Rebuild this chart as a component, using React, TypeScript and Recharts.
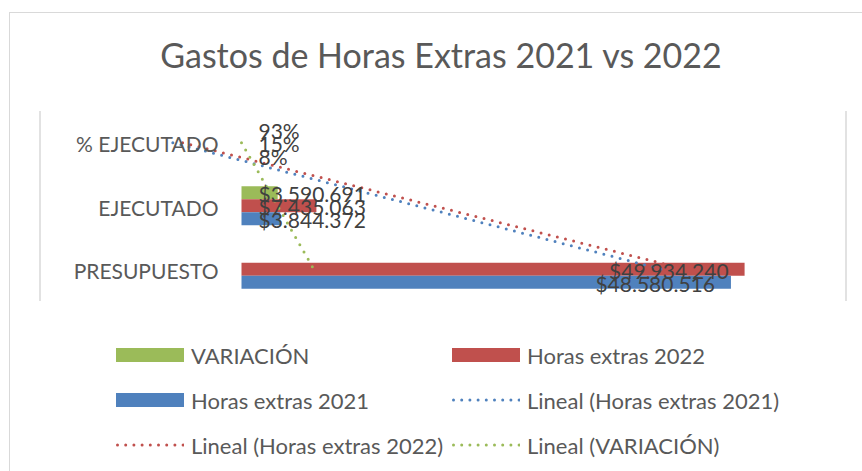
import React from 'react';
import {
  ComposedChart, Bar, Line, XAxis, YAxis, CartesianGrid, LabelList,
} from 'recharts';

const categories = ['% EJECUTADO', 'EJECUTADO', 'PRESUPUESTO'];
const variacion: (number | null)[] = [0.93, 3590691, null];
const horas2022 = [0.15, 7435063, 49934240];
const horas2021 = [0.08, 3844372, 48580516];
const valueTicks = [-20000000, 0, 20000000, 40000000, 60000000];

const GREEN = '#9BBB59';
const RED = '#C0504D';
const BLUE = '#4F81BD';
const FONT = 'Lato, "Open Sans", sans-serif';

// linear trendline like excel, blanks skipped
const linearFit = (vals: (number | null)[]) => {
  const pts = vals.map((v, i) => [i, v] as [number, number | null]).filter((p) => p[1] != null) as [number, number][];
  const n = pts.length;
  const mx = pts.reduce((s, p) => s + p[0], 0) / n;
  const my = pts.reduce((s, p) => s + p[1], 0) / n;
  const sxy = pts.reduce((s, p) => s + (p[0] - mx) * (p[1] - my), 0);
  const sxx = pts.reduce((s, p) => s + (p[0] - mx) ** 2, 0);
  const slope = sxx ? sxy / sxx : 0;
  return vals.map((_, i) => my + slope * (i - mx));
};

const trend2021 = linearFit(horas2021);
const trend2022 = linearFit(horas2022);
const trendVar = linearFit(variacion);

const data = categories.map((name, i) => ({
  name,
  variacion: variacion[i],
  h2022: horas2022[i],
  h2021: horas2021[i],
  t2021: trend2021[i],
  t2022: trend2022[i],
  tVar: trendVar[i],
}));

const fmt = (v: number) =>
  v < 1 ? `${Math.round(v * 100)}%` : '$' + Math.round(v).toString().replace(/\B(?=(\d{3})+(?!\d))/g, '.');

const BarLabel = (props: any) => {
  const { x, y, width, height, value } = props;
  if (value == null) return null;
  const text = fmt(value);
  const fits = width > text.length * 11 + 32;
  return (
    <text
      x={fits ? x + width - 16 : x + 17}
      y={y + height / 2 + 1}
      textAnchor={fits ? 'end' : 'start'}
      dominantBaseline="central"
      fontSize={21}
      fontFamily={FONT}
      fill="#404040"
    >
      {text}
    </text>
  );
};

const PLOT_W = 806;
const zeroOffset = (PLOT_W * (0 - valueTicks[0])) / (valueTicks[valueTicks.length - 1] - valueTicks[0]);

const CategoryTick = (props: any) => {
  const { y, payload } = props;
  return (
    <text x={40 + zeroOffset - 23} y={y + 1} textAnchor="end" dominantBaseline="central"
      fontSize={21} fontFamily={FONT} fill="#595959">
      {payload.value}
    </text>
  );
};

const legendItems = [
  { name: 'VARIACIÓN', color: GREEN, dotted: false },
  { name: 'Horas extras 2022', color: RED, dotted: false },
  { name: 'Horas extras 2021', color: BLUE, dotted: false },
  { name: 'Lineal (Horas extras 2021)', color: BLUE, dotted: true },
  { name: 'Lineal (Horas extras 2022)', color: RED, dotted: true },
  { name: 'Lineal (VARIACIÓN)', color: GREEN, dotted: true },
];

const trendProps = { type: 'linear' as const, strokeWidth: 3, strokeDasharray: '0 8.4', strokeLinecap: 'round' as const, dot: false, isAnimationActive: false };

const App: React.FC = () => (
  <div style={{ position: 'absolute', left: 0, top: 0, width: 862, height: 471, overflow: 'hidden', background: '#fff', fontFamily: FONT }}>
    <div style={{ position: 'absolute', left: 9, top: 12, width: 900, height: 520, border: '1.5px solid #D9D9D9' }} />
    <div style={{ position: 'absolute', left: 0, top: 33, width: 882, textAlign: 'center', fontSize: 34, color: '#595959', lineHeight: '44px' }}>
      Gastos de Horas Extras 2021 vs 2022
    </div>
    <div style={{ position: 'absolute', left: 0, top: 0 }}>
      <ComposedChart width={862} height={471} data={data} layout="vertical"
        margin={{ top: 111, right: 16, bottom: 169, left: 39 }} barSize={13} barGap={0}>
        <CartesianGrid horizontal={false} stroke="#D9D9D9" strokeWidth={1.5} />
        <XAxis type="number" domain={[valueTicks[0], valueTicks[valueTicks.length - 1]]} ticks={valueTicks}
          height={1} tick={false} axisLine={false} tickLine={false} />
        <YAxis type="category" dataKey="name" width={1} axisLine={false} tickLine={false} tick={CategoryTick} interval={0} />
        <Bar dataKey="variacion" fill={GREEN} isAnimationActive={false}>
          <LabelList dataKey="variacion" content={BarLabel} />
        </Bar>
        <Bar dataKey="h2022" fill={RED} isAnimationActive={false}>
          <LabelList dataKey="h2022" content={BarLabel} />
        </Bar>
        <Bar dataKey="h2021" fill={BLUE} isAnimationActive={false}>
          <LabelList dataKey="h2021" content={BarLabel} />
        </Bar>
        <Line dataKey="t2021" stroke={BLUE} {...trendProps} />
        <Line dataKey="t2022" stroke={RED} {...trendProps} />
        <Line dataKey="tVar" stroke={GREEN} {...trendProps} />
      </ComposedChart>
    </div>
    {legendItems.map((item, i) => {
      const col = i % 2;
      const row = Math.floor(i / 2);
      return (
        <div key={item.name} style={{ position: 'absolute', left: col ? 452 : 116, top: 355 + row * 45 - 13, height: 26, display: 'flex', alignItems: 'center', fontSize: 22, color: '#595959', whiteSpace: 'nowrap' }}>
          {item.dotted ? (
            <svg width={68} height={6} style={{ marginRight: 7 }}>
              <line x1={1.5} y1={3} x2={68} y2={3} stroke={item.color} strokeWidth={3} strokeDasharray="0 8.2" strokeLinecap="round" />
            </svg>
          ) : (
            <div style={{ width: 68, height: 14, background: item.color, marginRight: 7 }} />
          )}
          {item.name}
        </div>
      );
    })}
  </div>
);

export default App;
